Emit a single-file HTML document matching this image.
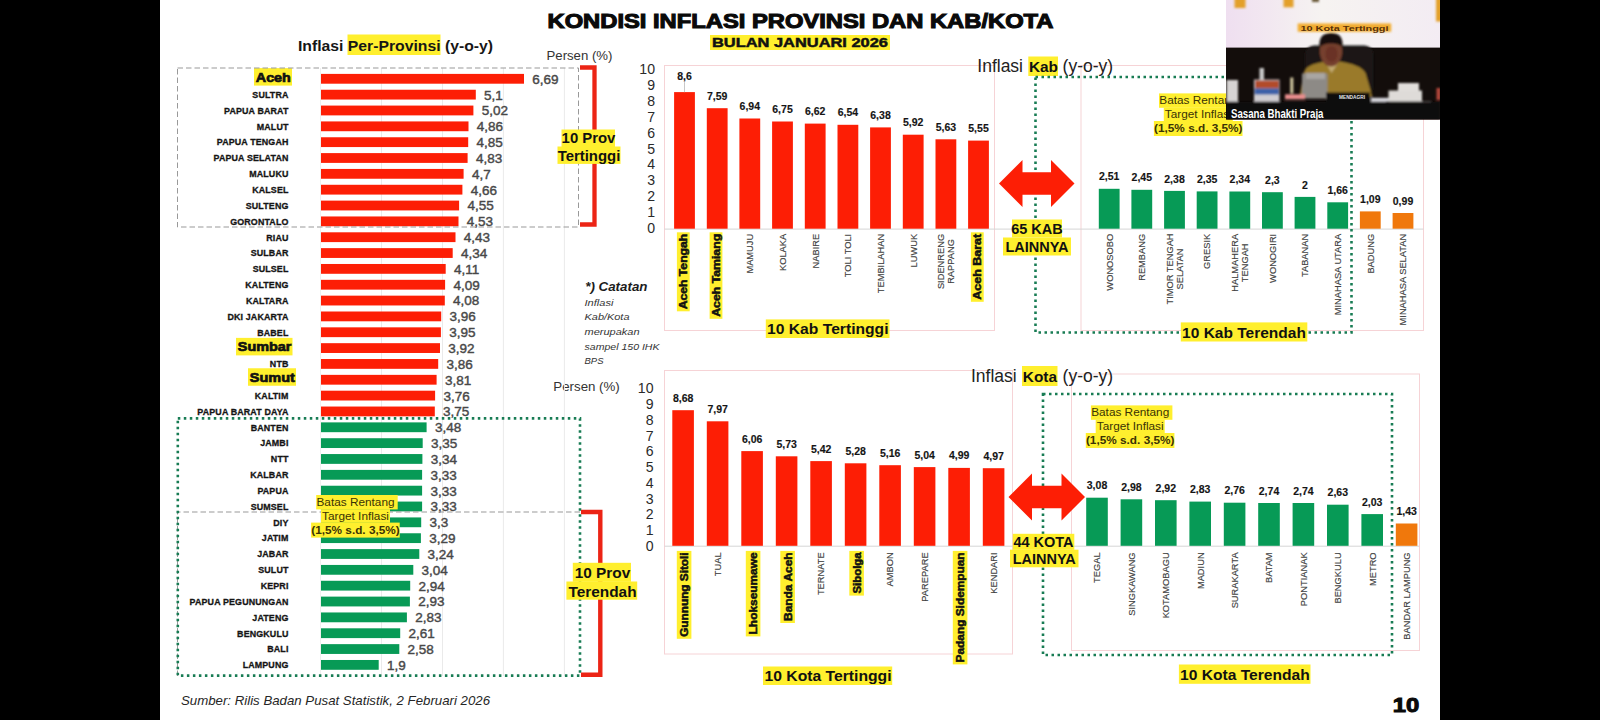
<!DOCTYPE html>
<html lang="id"><head><meta charset="utf-8"><title>Kondisi Inflasi Provinsi dan Kab/Kota</title>
<style>
html,body{margin:0;padding:0;background:#000;}
body{width:1600px;height:720px;overflow:hidden;font-family:"Liberation Sans",sans-serif;}
svg{display:block;}
text{font-family:"Liberation Sans",sans-serif;}
.b{font-weight:bold;}
.plab{font-size:8.9px;font-weight:bold;fill:#151515;stroke:#151515;stroke-width:.3;letter-spacing:.14px;text-anchor:end;}
.pval{font-size:13.5px;fill:#484848;stroke:#484848;stroke-width:.42;}
.hl{font-size:13px;font-weight:bold;fill:#111;stroke:#111;stroke-width:.7;text-anchor:end;}
.ax{font-size:14.1px;fill:#2a2a2a;text-anchor:end;}
.vl{font-size:10.5px;font-weight:bold;fill:#151515;stroke:#151515;stroke-width:.15;text-anchor:middle;}
.cl{font-size:9.3px;fill:#404040;stroke:#404040;stroke-width:.15;text-anchor:end;}
.clb{font-size:10.5px;font-weight:bold;fill:#111;stroke:#111;stroke-width:.5;text-anchor:end;}
.tag{font-size:15.5px;font-weight:bold;fill:#111;text-anchor:middle;}
.tag2{font-size:14.5px;font-weight:bold;fill:#111;text-anchor:middle;}
.bt{font-size:11.8px;fill:#3a3205;text-anchor:middle;}
</style></head><body>
<svg width="1600" height="720" viewBox="0 0 1600 720">
<rect x="0" y="0" width="1600" height="720" fill="#000"/>
<rect x="160" y="0" width="1280" height="720" fill="#fff"/>

<text x="800.5" y="28" text-anchor="middle" font-size="19.5" class="b" fill="#0a0a0a" stroke="#0a0a0a" stroke-width="1.05" textLength="506" lengthAdjust="spacingAndGlyphs">KONDISI INFLASI PROVINSI DAN KAB/KOTA</text>
<rect x="710" y="35" width="180" height="15" fill="#ffef2e"/>
<text x="800" y="47" text-anchor="middle" font-size="13.5" class="b" fill="#111" stroke="#111" stroke-width=".5" textLength="176" lengthAdjust="spacingAndGlyphs">BULAN JANUARI 2026</text>
<g id="prov">
<rect x="347.5" y="34.5" width="93" height="20.5" fill="#ffef2e"/>
<text x="298" y="50.7" font-size="15" class="b" fill="#161616" textLength="195" lengthAdjust="spacingAndGlyphs">Inflasi Per-Provinsi (y-o-y)</text>
<text x="546.5" y="59.6" font-size="13.2" fill="#333">Persen (%)</text>
<text x="553.3" y="391.3" font-size="13.3" fill="#333">Persen (%)</text>
<line x1="381.5" y1="68" x2="381.5" y2="676" stroke="#eaeaea" stroke-width="1"/>
<line x1="442.5" y1="68" x2="442.5" y2="676" stroke="#eaeaea" stroke-width="1"/>
<line x1="503.4" y1="68" x2="503.4" y2="676" stroke="#eaeaea" stroke-width="1"/>
<line x1="564.4" y1="68" x2="564.4" y2="676" stroke="#eaeaea" stroke-width="1"/>
<line x1="320.5" y1="68" x2="320.5" y2="676" stroke="#efefef" stroke-width="1"/>
<rect x="321" y="73.90" width="203.0" height="9.8" fill="#fd1e05"/>
<text x="532.3" y="83.70" class="pval">6,69</text>
<rect x="254" y="68.10" width="38" height="17.5" fill="#ffef2e"/>
<text x="290.8" y="81.60" class="hl" textLength="35" lengthAdjust="spacingAndGlyphs">Aceh</text>
<rect x="321" y="89.74" width="154.8" height="9.8" fill="#fd1e05"/>
<text x="484.1" y="99.54" class="pval">5,1</text>
<text x="288.5" y="97.94" class="plab">SULTRA</text>
<rect x="321" y="105.58" width="152.4" height="9.8" fill="#fd1e05"/>
<text x="481.7" y="115.38" class="pval">5,02</text>
<text x="288.5" y="113.78" class="plab">PAPUA BARAT</text>
<rect x="321" y="121.42" width="147.5" height="9.8" fill="#fd1e05"/>
<text x="476.8" y="131.22" class="pval">4,86</text>
<text x="288.5" y="129.62" class="plab">MALUT</text>
<rect x="321" y="137.26" width="147.2" height="9.8" fill="#fd1e05"/>
<text x="476.5" y="147.06" class="pval">4,85</text>
<text x="288.5" y="145.46" class="plab">PAPUA TENGAH</text>
<rect x="321" y="153.10" width="146.6" height="9.8" fill="#fd1e05"/>
<text x="475.9" y="162.90" class="pval">4,83</text>
<text x="288.5" y="161.30" class="plab">PAPUA SELATAN</text>
<rect x="321" y="168.94" width="142.6" height="9.8" fill="#fd1e05"/>
<text x="471.9" y="178.74" class="pval">4,7</text>
<text x="288.5" y="177.14" class="plab">MALUKU</text>
<rect x="321" y="184.78" width="141.4" height="9.8" fill="#fd1e05"/>
<text x="470.7" y="194.58" class="pval">4,66</text>
<text x="288.5" y="192.98" class="plab">KALSEL</text>
<rect x="321" y="200.62" width="138.1" height="9.8" fill="#fd1e05"/>
<text x="467.4" y="210.42" class="pval">4,55</text>
<text x="288.5" y="208.82" class="plab">SULTENG</text>
<rect x="321" y="216.46" width="137.5" height="9.8" fill="#fd1e05"/>
<text x="466.8" y="226.26" class="pval">4,53</text>
<text x="288.5" y="224.66" class="plab">GORONTALO</text>
<rect x="321" y="232.30" width="134.5" height="9.8" fill="#fd1e05"/>
<text x="463.8" y="242.10" class="pval">4,43</text>
<text x="288.5" y="240.50" class="plab">RIAU</text>
<rect x="321" y="248.14" width="131.7" height="9.8" fill="#fd1e05"/>
<text x="461.0" y="257.94" class="pval">4,34</text>
<text x="288.5" y="256.34" class="plab">SULBAR</text>
<rect x="321" y="263.98" width="124.7" height="9.8" fill="#fd1e05"/>
<text x="454.0" y="273.78" class="pval">4,11</text>
<text x="288.5" y="272.18" class="plab">SULSEL</text>
<rect x="321" y="279.82" width="124.1" height="9.8" fill="#fd1e05"/>
<text x="453.4" y="289.62" class="pval">4,09</text>
<text x="288.5" y="288.02" class="plab">KALTENG</text>
<rect x="321" y="295.66" width="123.8" height="9.8" fill="#fd1e05"/>
<text x="453.1" y="305.46" class="pval">4,08</text>
<text x="288.5" y="303.86" class="plab">KALTARA</text>
<rect x="321" y="311.50" width="120.2" height="9.8" fill="#fd1e05"/>
<text x="449.5" y="321.30" class="pval">3,96</text>
<text x="288.5" y="319.70" class="plab">DKI JAKARTA</text>
<rect x="321" y="327.34" width="119.9" height="9.8" fill="#fd1e05"/>
<text x="449.2" y="337.14" class="pval">3,95</text>
<text x="288.5" y="335.54" class="plab">BABEL</text>
<rect x="321" y="343.18" width="119.0" height="9.8" fill="#fd1e05"/>
<text x="448.3" y="352.98" class="pval">3,92</text>
<rect x="236" y="337.88" width="56.5" height="17.5" fill="#ffef2e"/>
<text x="291.3" y="351.38" class="hl" textLength="53.5" lengthAdjust="spacingAndGlyphs">Sumbar</text>
<rect x="321" y="359.02" width="117.2" height="9.8" fill="#fd1e05"/>
<text x="446.5" y="368.82" class="pval">3,86</text>
<text x="288.5" y="367.22" class="plab">NTB</text>
<rect x="321" y="374.86" width="115.6" height="9.8" fill="#fd1e05"/>
<text x="444.9" y="384.66" class="pval">3,81</text>
<rect x="248" y="368.26" width="48" height="17.5" fill="#ffef2e"/>
<text x="294.8" y="381.76" class="hl" textLength="45" lengthAdjust="spacingAndGlyphs">Sumut</text>
<rect x="321" y="390.70" width="114.1" height="9.8" fill="#fd1e05"/>
<text x="443.4" y="400.50" class="pval">3,76</text>
<text x="288.5" y="398.90" class="plab">KALTIM</text>
<rect x="321" y="406.54" width="113.8" height="9.8" fill="#fd1e05"/>
<text x="443.1" y="416.34" class="pval">3,75</text>
<text x="288.5" y="414.74" class="plab">PAPUA BARAT DAYA</text>
<rect x="321" y="422.38" width="105.6" height="9.8" fill="#079a56"/>
<text x="434.9" y="432.18" class="pval">3,48</text>
<text x="288.5" y="430.58" class="plab">BANTEN</text>
<rect x="321" y="438.22" width="101.7" height="9.8" fill="#079a56"/>
<text x="431.0" y="448.02" class="pval">3,35</text>
<text x="288.5" y="446.42" class="plab">JAMBI</text>
<rect x="321" y="454.06" width="101.4" height="9.8" fill="#079a56"/>
<text x="430.7" y="463.86" class="pval">3,34</text>
<text x="288.5" y="462.26" class="plab">NTT</text>
<rect x="321" y="469.90" width="101.1" height="9.8" fill="#079a56"/>
<text x="430.4" y="479.70" class="pval">3,33</text>
<text x="288.5" y="478.10" class="plab">KALBAR</text>
<rect x="321" y="485.74" width="101.1" height="9.8" fill="#079a56"/>
<text x="430.4" y="495.54" class="pval">3,33</text>
<text x="288.5" y="493.94" class="plab">PAPUA</text>
<rect x="321" y="501.58" width="101.1" height="9.8" fill="#079a56"/>
<text x="430.4" y="511.38" class="pval">3,33</text>
<text x="288.5" y="509.78" class="plab">SUMSEL</text>
<rect x="321" y="517.42" width="100.2" height="9.8" fill="#079a56"/>
<text x="429.5" y="527.22" class="pval">3,3</text>
<text x="288.5" y="525.62" class="plab">DIY</text>
<rect x="321" y="533.26" width="99.9" height="9.8" fill="#079a56"/>
<text x="429.2" y="543.06" class="pval">3,29</text>
<text x="288.5" y="541.46" class="plab">JATIM</text>
<rect x="321" y="549.10" width="98.3" height="9.8" fill="#079a56"/>
<text x="427.6" y="558.90" class="pval">3,24</text>
<text x="288.5" y="557.30" class="plab">JABAR</text>
<rect x="321" y="564.94" width="92.3" height="9.8" fill="#079a56"/>
<text x="421.6" y="574.74" class="pval">3,04</text>
<text x="288.5" y="573.14" class="plab">SULUT</text>
<rect x="321" y="580.78" width="89.2" height="9.8" fill="#079a56"/>
<text x="418.5" y="590.58" class="pval">2,94</text>
<text x="288.5" y="588.98" class="plab">KEPRI</text>
<rect x="321" y="596.62" width="88.9" height="9.8" fill="#079a56"/>
<text x="418.2" y="606.42" class="pval">2,93</text>
<text x="288.5" y="604.82" class="plab">PAPUA PEGUNUNGAN</text>
<rect x="321" y="612.46" width="85.9" height="9.8" fill="#079a56"/>
<text x="415.2" y="622.26" class="pval">2,83</text>
<text x="288.5" y="620.66" class="plab">JATENG</text>
<rect x="321" y="628.30" width="79.2" height="9.8" fill="#079a56"/>
<text x="408.5" y="638.10" class="pval">2,61</text>
<text x="288.5" y="636.50" class="plab">BENGKULU</text>
<rect x="321" y="644.14" width="78.3" height="9.8" fill="#079a56"/>
<text x="407.6" y="653.94" class="pval">2,58</text>
<text x="288.5" y="652.34" class="plab">BALI</text>
<rect x="321" y="659.98" width="57.7" height="9.8" fill="#079a56"/>
<text x="387.0" y="669.78" class="pval">1,9</text>
<text x="288.5" y="668.18" class="plab">LAMPUNG</text>
<rect x="177.5" y="68" width="401" height="159" fill="none" stroke="#999" stroke-width="1" stroke-dasharray="5.5 3"/>
<path d="M177.5 676V512H580" fill="none" stroke="#999" stroke-width="1" stroke-dasharray="5.5 3"/>
<rect x="177.8" y="418.4" width="402.2" height="257.2" fill="none" stroke="#187c54" stroke-width="2.6" stroke-dasharray="2.5 3.5"/>
<path d="M580 67.5H594.5V224.5H580" fill="none" stroke="#ec2415" stroke-width="4.3"/>
<path d="M581 512H600.3V674.7H581" fill="none" stroke="#ec2415" stroke-width="4.4"/>
<rect x="561.5" y="129.5" width="53.5" height="17.5" fill="#ffef2e"/><rect x="557.5" y="146.5" width="63" height="17.4" fill="#ffef2e"/>
<text x="588.5" y="143" class="tag2" style="font-size:14.9px">10 Prov</text><text x="589" y="160.8" class="tag2" style="font-size:14.9px">Tertinggi</text>
<rect x="572.8" y="562.8" width="58.2" height="19" fill="#ffef2e"/><rect x="566.4" y="581.5" width="70.8" height="18.2" fill="#ffef2e"/>
<text x="602.5" y="578" class="tag2" style="font-size:15.4px">10 Prov</text><text x="602.5" y="597" class="tag2" style="font-size:15.4px">Terendah</text>
<rect x="316.2" y="495.0" width="81.5" height="14.4" fill="#ffef2e"/><rect x="321.0" y="509.2" width="69" height="13.6" fill="#ffef2e"/><rect x="311.1" y="522.6" width="88.6" height="15" fill="#ffef2e"/>
<text x="355.5" y="505.8" class="bt">Batas Rentang</text><text x="355.5" y="519.6" class="bt">Target Inflasi</text><text x="355.5" y="533.9" class="bt b" fill="#221c00">(1,5% s.d. 3,5%)</text>
<text x="181" y="704.7" font-size="12.4" font-style="italic" fill="#262626" textLength="309" lengthAdjust="spacingAndGlyphs">Sumber: Rilis Badan Pusat Statistik, 2 Februari 2026</text>
<text x="585.2" y="291" font-size="12.5" font-style="italic" class="b" fill="#1c1c1c" textLength="62.3" lengthAdjust="spacingAndGlyphs">*) Catatan</text>
<text x="584.5" y="305.8" font-size="9.4" font-style="italic" fill="#333" textLength="28.9" lengthAdjust="spacingAndGlyphs">Inflasi</text>
<text x="584.5" y="320.4" font-size="9.4" font-style="italic" fill="#333" textLength="45" lengthAdjust="spacingAndGlyphs">Kab/Kota</text>
<text x="584.5" y="334.9" font-size="9.4" font-style="italic" fill="#333" textLength="55" lengthAdjust="spacingAndGlyphs">merupakan</text>
<text x="584.5" y="349.5" font-size="9.4" font-style="italic" fill="#333" textLength="75" lengthAdjust="spacingAndGlyphs">sampel 150 IHK</text>
<text x="584.5" y="364.0" font-size="9.4" font-style="italic" fill="#333" textLength="19" lengthAdjust="spacingAndGlyphs">BPS</text>
</g>
<g id="kab">
<rect x="664.5" y="65.5" width="330.0" height="265.0" fill="none" stroke="#f6d3d6" stroke-width="1"/>
<rect x="1081" y="65.5" width="342.5" height="265.0" fill="none" stroke="#f6d3d6" stroke-width="1"/>
<text x="655" y="232.6" class="ax">0</text>
<text x="655" y="216.8" class="ax">1</text>
<text x="655" y="201.0" class="ax">2</text>
<text x="655" y="185.1" class="ax">3</text>
<text x="655" y="169.3" class="ax">4</text>
<text x="655" y="153.5" class="ax">5</text>
<text x="655" y="137.7" class="ax">6</text>
<text x="655" y="121.9" class="ax">7</text>
<text x="655" y="106.0" class="ax">8</text>
<text x="655" y="90.2" class="ax">9</text>
<text x="655" y="74.4" class="ax">10</text>
<line x1="664.5" y1="229.1" x2="1423.5" y2="229.1" stroke="#d6d6d6" stroke-width="1"/>
<rect x="674.1" y="92.1" width="20.8" height="136.6" fill="#fd1e05"/>
<line x1="684.5" y1="82.13199999999998" x2="684.5" y2="92.13199999999998" stroke="#c8c8c8" stroke-width="1"/>
<text x="684.5" y="79.5" class="vl">8,6</text>
<rect x="676.9" y="232.3" width="12.8" height="79.0" fill="#ffef2e"/>
<text transform="translate(687.2,233.8) rotate(-90)" class="clb" textLength="75.5" lengthAdjust="spacingAndGlyphs">Aceh Tengah</text>
<rect x="706.8" y="108.2" width="20.8" height="120.5" fill="#fd1e05"/>
<text x="717.2" y="99.8" class="vl">7,59</text>
<rect x="709.6" y="232.3" width="12.8" height="86.5" fill="#ffef2e"/>
<text transform="translate(719.9,233.8) rotate(-90)" class="clb" textLength="83" lengthAdjust="spacingAndGlyphs">Aceh Tamiang</text>
<rect x="739.4" y="118.5" width="20.8" height="110.2" fill="#fd1e05"/>
<text x="749.8" y="110.1" class="vl">6,94</text>
<text transform="translate(753.1,233.8) rotate(-90)" class="cl" font-size="9.3">MAMUJU</text>
<rect x="772.1" y="121.5" width="20.8" height="107.2" fill="#fd1e05"/>
<text x="782.5" y="113.1" class="vl">6,75</text>
<text transform="translate(785.8,233.8) rotate(-90)" class="cl" font-size="9.3">KOLAKA</text>
<rect x="804.8" y="123.6" width="20.8" height="105.1" fill="#fd1e05"/>
<text x="815.2" y="115.2" class="vl">6,62</text>
<text transform="translate(818.5,233.8) rotate(-90)" class="cl" font-size="9.3">NABIRE</text>
<rect x="837.5" y="124.8" width="20.8" height="103.9" fill="#fd1e05"/>
<text x="847.9" y="116.4" class="vl">6,54</text>
<text transform="translate(851.1,233.8) rotate(-90)" class="cl" font-size="9.3">TOLI TOLI</text>
<rect x="870.1" y="127.4" width="20.8" height="101.3" fill="#fd1e05"/>
<text x="880.5" y="119.0" class="vl">6,38</text>
<text transform="translate(883.8,233.8) rotate(-90)" class="cl" font-size="9.3">TEMBILAHAN</text>
<rect x="902.8" y="134.7" width="20.8" height="94.0" fill="#fd1e05"/>
<text x="913.2" y="126.3" class="vl">5,92</text>
<text transform="translate(916.5,233.8) rotate(-90)" class="cl" font-size="9.3">LUWUK</text>
<rect x="935.5" y="139.3" width="20.8" height="89.4" fill="#fd1e05"/>
<text x="945.9" y="130.9" class="vl">5,63</text>
<text transform="translate(943.9,261.45) rotate(-90)" class="cl" font-size="9.3" style="text-anchor:middle">SIDENRENG</text>
<text transform="translate(954.4,261.45) rotate(-90)" class="cl" font-size="9.3" style="text-anchor:middle">RAPPANG</text>
<rect x="968.1" y="140.6" width="20.8" height="88.1" fill="#fd1e05"/>
<text x="978.5" y="132.2" class="vl">5,55</text>
<rect x="970.9" y="232.3" width="12.8" height="69.5" fill="#ffef2e"/>
<text transform="translate(981.2,233.8) rotate(-90)" class="clb" textLength="66" lengthAdjust="spacingAndGlyphs">Aceh Barat</text>
<rect x="1098.8" y="188.8" width="20.8" height="39.9" fill="#079a56"/>
<text x="1109.2" y="180.4" class="vl">2,51</text>
<text transform="translate(1112.5,233.8) rotate(-90)" class="cl" font-size="9.3">WONOSOBO</text>
<rect x="1131.4" y="189.8" width="20.8" height="38.9" fill="#079a56"/>
<text x="1141.8" y="181.4" class="vl">2,45</text>
<text transform="translate(1145.1,233.8) rotate(-90)" class="cl" font-size="9.3">REMBANG</text>
<rect x="1164.1" y="190.9" width="20.8" height="37.8" fill="#079a56"/>
<text x="1174.5" y="182.5" class="vl">2,38</text>
<text transform="translate(1172.5,269.0) rotate(-90)" class="cl" font-size="9.3" style="text-anchor:middle">TIMOR TENGAH</text>
<text transform="translate(1183.0,269.0) rotate(-90)" class="cl" font-size="9.3" style="text-anchor:middle">SELATAN</text>
<rect x="1196.7" y="191.4" width="20.8" height="37.3" fill="#079a56"/>
<text x="1207.1" y="183.0" class="vl">2,35</text>
<text transform="translate(1210.4,233.8) rotate(-90)" class="cl" font-size="9.3">GRESIK</text>
<rect x="1229.4" y="191.5" width="20.8" height="37.2" fill="#079a56"/>
<text x="1239.8" y="183.1" class="vl">2,34</text>
<text transform="translate(1237.8,262.8) rotate(-90)" class="cl" font-size="9.3" style="text-anchor:middle">HALMAHERA</text>
<text transform="translate(1248.3,262.8) rotate(-90)" class="cl" font-size="9.3" style="text-anchor:middle">TENGAH</text>
<rect x="1262.0" y="192.2" width="20.8" height="36.5" fill="#079a56"/>
<text x="1272.4" y="183.8" class="vl">2,3</text>
<text transform="translate(1275.7,233.8) rotate(-90)" class="cl" font-size="9.3">WONOGIRI</text>
<rect x="1294.6" y="196.9" width="20.8" height="31.8" fill="#079a56"/>
<text x="1305.0" y="188.5" class="vl">2</text>
<text transform="translate(1308.3,233.8) rotate(-90)" class="cl" font-size="9.3">TABANAN</text>
<rect x="1327.3" y="202.3" width="20.8" height="26.4" fill="#079a56"/>
<text x="1337.7" y="193.9" class="vl">1,66</text>
<text transform="translate(1341.0,233.8) rotate(-90)" class="cl" font-size="9.3">MINAHASA UTARA</text>
<rect x="1359.9" y="211.4" width="20.8" height="17.3" fill="#f0780c"/>
<text x="1370.3" y="203.0" class="vl">1,09</text>
<text transform="translate(1373.6,233.8) rotate(-90)" class="cl" font-size="9.3">BADUNG</text>
<rect x="1392.6" y="213.0" width="20.8" height="15.7" fill="#f0780c"/>
<text x="1403.0" y="204.6" class="vl">0,99</text>
<text transform="translate(1406.3,233.8) rotate(-90)" class="cl" font-size="9.3">MINAHASA SELATAN</text>
</g>
<g id="kota">
<rect x="664.5" y="370.5" width="348.0" height="283.5" fill="none" stroke="#f6d3d6" stroke-width="1"/>
<rect x="1071.5" y="374" width="348.0" height="276.5" fill="none" stroke="#f6d3d6" stroke-width="1"/>
<text x="653.5" y="550.8" class="ax">0</text>
<text x="653.5" y="535.0" class="ax">1</text>
<text x="653.5" y="519.3" class="ax">2</text>
<text x="653.5" y="503.6" class="ax">3</text>
<text x="653.5" y="487.8" class="ax">4</text>
<text x="653.5" y="472.1" class="ax">5</text>
<text x="653.5" y="456.3" class="ax">6</text>
<text x="653.5" y="440.6" class="ax">7</text>
<text x="653.5" y="424.8" class="ax">8</text>
<text x="653.5" y="409.1" class="ax">9</text>
<text x="653.5" y="393.3" class="ax">10</text>
<line x1="664.5" y1="546.2" x2="1419.5" y2="546.2" stroke="#d6d6d6" stroke-width="1"/>
<rect x="672.3" y="410.2" width="21.6" height="135.6" fill="#fd1e05"/>
<text x="683.1" y="401.7" class="vl">8,68</text>
<rect x="676.8" y="550.9" width="14.6" height="87.9" fill="#ffef2e"/>
<text transform="translate(688.0,552.4) rotate(-90)" class="clb" textLength="84.4" lengthAdjust="spacingAndGlyphs">Gunnung Sitoli</text>
<rect x="706.8" y="421.3" width="21.6" height="124.5" fill="#fd1e05"/>
<text x="717.6" y="412.8" class="vl">7,97</text>
<text transform="translate(720.9,552.4) rotate(-90)" class="cl" font-size="9.3">TUAL</text>
<rect x="741.3" y="451.1" width="21.6" height="94.7" fill="#fd1e05"/>
<text x="752.1" y="442.6" class="vl">6,06</text>
<rect x="745.8" y="550.9" width="14.6" height="85.5" fill="#ffef2e"/>
<text transform="translate(757.0,552.4) rotate(-90)" class="clb" textLength="82" lengthAdjust="spacingAndGlyphs">Lhokseumawe</text>
<rect x="775.8" y="456.3" width="21.6" height="89.5" fill="#fd1e05"/>
<text x="786.6" y="447.8" class="vl">5,73</text>
<rect x="780.3" y="550.9" width="14.6" height="72.1" fill="#ffef2e"/>
<text transform="translate(791.5,552.4) rotate(-90)" class="clb" textLength="68.6" lengthAdjust="spacingAndGlyphs">Banda Aceh</text>
<rect x="810.3" y="461.1" width="21.6" height="84.7" fill="#fd1e05"/>
<text x="821.1" y="452.6" class="vl">5,42</text>
<text transform="translate(824.4,552.4) rotate(-90)" class="cl" font-size="9.3">TERNATE</text>
<rect x="844.8" y="463.3" width="21.6" height="82.5" fill="#fd1e05"/>
<text x="855.6" y="454.8" class="vl">5,28</text>
<rect x="849.3" y="550.9" width="14.6" height="44.7" fill="#ffef2e"/>
<text transform="translate(860.5,552.4) rotate(-90)" class="clb" textLength="41.2" lengthAdjust="spacingAndGlyphs">Sibolga</text>
<rect x="879.3" y="465.2" width="21.6" height="80.6" fill="#fd1e05"/>
<text x="890.1" y="456.7" class="vl">5,16</text>
<text transform="translate(893.4,552.4) rotate(-90)" class="cl" font-size="9.3">AMBON</text>
<rect x="913.8" y="467.1" width="21.6" height="78.7" fill="#fd1e05"/>
<text x="924.6" y="458.6" class="vl">5,04</text>
<text transform="translate(927.9,552.4) rotate(-90)" class="cl" font-size="9.3">PAREPARE</text>
<rect x="948.3" y="467.9" width="21.6" height="77.9" fill="#fd1e05"/>
<text x="959.1" y="459.4" class="vl">4,99</text>
<rect x="952.8" y="550.9" width="14.6" height="113.5" fill="#ffef2e"/>
<text transform="translate(964.0,552.4) rotate(-90)" class="clb" textLength="110" lengthAdjust="spacingAndGlyphs">Padang Sidempuan</text>
<rect x="982.8" y="468.2" width="21.6" height="77.6" fill="#fd1e05"/>
<text x="993.6" y="459.7" class="vl">4,97</text>
<text transform="translate(996.9,552.4) rotate(-90)" class="cl" font-size="9.3">KENDARI</text>
<rect x="1086.2" y="497.7" width="21.6" height="48.1" fill="#079a56"/>
<text x="1097.0" y="489.2" class="vl">3,08</text>
<text transform="translate(1100.3,552.4) rotate(-90)" class="cl" font-size="9.3">TEGAL</text>
<rect x="1120.6" y="499.3" width="21.6" height="46.5" fill="#079a56"/>
<text x="1131.4" y="490.8" class="vl">2,98</text>
<text transform="translate(1134.7,552.4) rotate(-90)" class="cl" font-size="9.3">SINGKAWANG</text>
<rect x="1155.0" y="500.2" width="21.6" height="45.6" fill="#079a56"/>
<text x="1165.8" y="491.7" class="vl">2,92</text>
<text transform="translate(1169.1,552.4) rotate(-90)" class="cl" font-size="9.3">KOTAMOBAGU</text>
<rect x="1189.4" y="501.6" width="21.6" height="44.2" fill="#079a56"/>
<text x="1200.2" y="493.1" class="vl">2,83</text>
<text transform="translate(1203.5,552.4) rotate(-90)" class="cl" font-size="9.3">MADIUN</text>
<rect x="1223.8" y="502.7" width="21.6" height="43.1" fill="#079a56"/>
<text x="1234.6" y="494.2" class="vl">2,76</text>
<text transform="translate(1237.9,552.4) rotate(-90)" class="cl" font-size="9.3">SURAKARTA</text>
<rect x="1258.2" y="503.0" width="21.6" height="42.8" fill="#079a56"/>
<text x="1269.0" y="494.5" class="vl">2,74</text>
<text transform="translate(1272.3,552.4) rotate(-90)" class="cl" font-size="9.3">BATAM</text>
<rect x="1292.6" y="503.0" width="21.6" height="42.8" fill="#079a56"/>
<text x="1303.4" y="494.5" class="vl">2,74</text>
<text transform="translate(1306.7,552.4) rotate(-90)" class="cl" font-size="9.3">PONTIANAK</text>
<rect x="1327.0" y="504.7" width="21.6" height="41.1" fill="#079a56"/>
<text x="1337.8" y="496.2" class="vl">2,63</text>
<text transform="translate(1341.1,552.4) rotate(-90)" class="cl" font-size="9.3">BENGKULU</text>
<rect x="1361.4" y="514.1" width="21.6" height="31.7" fill="#079a56"/>
<text x="1372.2" y="505.6" class="vl">2,03</text>
<text transform="translate(1375.5,552.4) rotate(-90)" class="cl" font-size="9.3">METRO</text>
<rect x="1395.8" y="523.5" width="21.6" height="22.3" fill="#f0780c"/>
<text x="1406.6" y="515.0" class="vl">1,43</text>
<text transform="translate(1409.9,552.4) rotate(-90)" class="cl" font-size="9.3">BANDAR LAMPUNG</text>
</g>
<rect x="1028.3" y="56.5" width="29.7" height="19.5" fill="#ffef2e"/>
<text y="71.9" font-size="17.5" fill="#222"><tspan x="977.3">Inflasi</tspan><tspan x="1028.9" class="b" font-size="15.4" fill="#111">Kab</tspan><tspan x="1062.6">(y-o-y)</tspan></text>
<rect x="1022" y="366" width="35.5" height="20" fill="#ffef2e"/>
<text y="381.9" font-size="17.5" fill="#222"><tspan x="971">Inflasi</tspan><tspan x="1022.8" class="b" font-size="15.4" fill="#111">Kota</tspan><tspan x="1062.6">(y-o-y)</tspan></text>
<rect x="1035.5" y="77" width="316" height="255.5" fill="none" stroke="#187c54" stroke-width="2.6" stroke-dasharray="2.5 3.5"/>
<rect x="1043" y="394" width="349" height="261" fill="none" stroke="#187c54" stroke-width="2.6" stroke-dasharray="2.5 3.5"/>
<path d="M999 183.5L1022.5 160.0V172.2H1051.0V160.0L1074.5 183.5L1051.0 207.0V194.8H1022.5V207.0Z" fill="#fd1e05"/>
<path d="M1008.5 497L1032.0 473.5V485.7H1061.5V473.5L1085 497L1061.5 520.5V508.3H1032.0V520.5Z" fill="#fd1e05"/>
<rect x="765.8" y="319.4" width="123.7" height="18.6" fill="#ffef2e"/>
<text x="827.8" y="333.6" class="tag" textLength="121.5" lengthAdjust="spacingAndGlyphs">10 Kab Tertinggi</text>
<rect x="1180.8" y="322.4" width="126.5" height="19.1" fill="#ffef2e"/>
<text x="1244" y="337.8" class="tag" textLength="123.8" lengthAdjust="spacingAndGlyphs">10 Kab Terendah</text>
<rect x="763" y="666.5" width="129.2" height="18.5" fill="#ffef2e"/>
<text x="828" y="681.2" class="tag" textLength="127" lengthAdjust="spacingAndGlyphs">10 Kota Tertinggi</text>
<rect x="1178.9" y="664.5" width="131.6" height="19.3" fill="#ffef2e"/>
<text x="1244.9" y="679.5" class="tag" textLength="129.8" lengthAdjust="spacingAndGlyphs">10 Kota Terendah</text>
<rect x="1012.0" y="219.5" width="50" height="18" fill="#ffef2e"/>
<text x="1037" y="233.8" class="tag2">65 KAB</text>
<rect x="1003.0" y="237.5" width="68" height="18" fill="#ffef2e"/>
<text x="1037" y="251.8" class="tag2">LAINNYA</text>
<rect x="1012.8" y="533.8" width="61.5" height="16" fill="#ffef2e"/>
<text x="1043.5" y="547.1" class="tag2">44 KOTA</text>
<rect x="1010.0" y="549.7" width="68.5" height="17.6" fill="#ffef2e"/>
<text x="1044.2" y="563.8" class="tag2">LAINNYA</text>
<rect x="1159.0" y="93.4" width="81.5" height="14.4" fill="#ffef2e"/><rect x="1163.8" y="107.6" width="69" height="13.6" fill="#ffef2e"/><rect x="1153.9" y="121.0" width="88.6" height="15" fill="#ffef2e"/>
<text x="1198.3" y="104.2" class="bt">Batas Rentang</text><text x="1198.3" y="118.0" class="bt">Target Inflasi</text><text x="1198.3" y="132.3" class="bt b" fill="#221c00">(1,5% s.d. 3,5%)</text>
<rect x="1090.9" y="405.4" width="81.5" height="14.4" fill="#ffef2e"/><rect x="1095.7" y="419.6" width="69" height="13.6" fill="#ffef2e"/><rect x="1085.8" y="433.0" width="88.6" height="15" fill="#ffef2e"/>
<text x="1130.2" y="416.2" class="bt">Batas Rentang</text><text x="1130.2" y="430.0" class="bt">Target Inflasi</text><text x="1130.2" y="444.3" class="bt b" fill="#221c00">(1,5% s.d. 3,5%)</text>
<text x="1419.3" y="711.8" text-anchor="end" font-size="20.6" class="b" fill="#0a0a0a" stroke="#0a0a0a" stroke-width="1" textLength="26.5" lengthAdjust="spacingAndGlyphs">10</text>
<defs>
<linearGradient id="vbg" x1="0" y1="0" x2="1" y2="0"><stop offset="0" stop-color="#efdff0"/><stop offset=".45" stop-color="#f6f3f1"/><stop offset="1" stop-color="#f3ecf3"/></linearGradient>
<filter id="soft" x="-5%" y="-5%" width="110%" height="110%"><feGaussianBlur stdDeviation=".9"/></filter>
<clipPath id="vclip"><rect x="1226" y="0" width="214" height="119.7"/></clipPath>
</defs>
<g id="video" clip-path="url(#vclip)">
<rect x="1226" y="0" width="214" height="119.7" fill="#130d0b"/>
<rect x="1226" y="0" width="214" height="47.6" fill="url(#vbg)"/>
<g filter="url(#soft)">
<rect x="1234.5" y="-2" width="11" height="10" fill="#e3a02a"/><rect x="1283.5" y="-2" width="10" height="9.3" fill="#e3a02a"/><rect x="1312" y="-2" width="7" height="4" fill="#6a5a3a"/><rect x="1436" y="-2" width="6" height="23.5" fill="#e3a02a"/>
<rect x="1297.7" y="23.4" width="93.5" height="8.4" fill="#f2ad33"/>
<rect x="1305" y="45.5" width="68.5" height="50" rx="9" fill="#1d1816"/>
<path d="M1299.500 97L1303.500 73Q1306 65.500 1318 63L1331 60L1345 62.500Q1361 65.500 1365.500 73L1372.500 97Z" fill="#9a7a2b"/>
<path d="M1325.500 62.500L1331.500 73L1338.500 62.500Z" fill="#c2aa70"/>
<ellipse cx="1331" cy="51" rx="11.200" ry="15.500" fill="#76402e"/>
<ellipse cx="1331.500" cy="54" rx="6" ry="8" fill="#6a3226"/>
<path d="M1319.500 47.500C1318.500 36 1324 33 1331 33C1339 33 1343.500 37 1342.500 47.500C1339 42 1324 42 1319.500 47.500Z" fill="#17100d"/>
<rect x="1302" y="73.500" width="25.500" height="25" fill="#8d8a86"/>
<rect x="1306" y="73" width="19" height="6" fill="#a9a6a2"/>
<rect x="1226.500" y="80" width="11.500" height="22" fill="#d6d3d3"/>
<rect x="1259.500" y="68" width="4.500" height="12" fill="#c9c9c9"/>
<rect x="1254" y="79.500" width="25.500" height="22.500" fill="#cfcdd2"/><rect x="1255" y="80.500" width="24" height="8" fill="#b24b2a"/><rect x="1254.500" y="88.500" width="24.500" height="6" fill="#3b60a8"/>
<rect x="1290.300" y="77.500" width="3" height="16" fill="#d9cfa6"/>
<rect x="1285" y="94.300" width="20" height="5" fill="#e98e8e"/>
<rect x="1371" y="97.800" width="18" height="4.200" fill="#dcdbe2"/><rect x="1386" y="101" width="45" height="2.500" fill="#6d6a69"/>
<rect x="1398" y="83" width="21" height="9" fill="#e2dfdc"/><rect x="1388.500" y="90.500" width="33.500" height="11" fill="#dedbd8"/>
<rect x="1436.500" y="88" width="4" height="12" fill="#b8463e"/>
<rect x="1326" y="92.500" width="44" height="9.500" fill="#0e0b0a"/>
<rect x="1226.500" y="101.700" width="213.500" height="18" fill="#0d0909"/>
</g>
<text x="1344.500" y="30.700" text-anchor="middle" font-size="8" class="b" fill="#5a3208" textLength="88" lengthAdjust="spacingAndGlyphs">10 Kota Tertinggi</text>
<text x="1352" y="99.300" text-anchor="middle" font-size="4.500" class="b" fill="#e8e8e8" textLength="26" lengthAdjust="spacingAndGlyphs">MENDAGRI</text>
<text x="1231" y="118" font-size="12.500" class="b" fill="#fff" textLength="92.500" lengthAdjust="spacingAndGlyphs">Sasana Bhakti Praja</text>
</g>
</svg></body></html>
